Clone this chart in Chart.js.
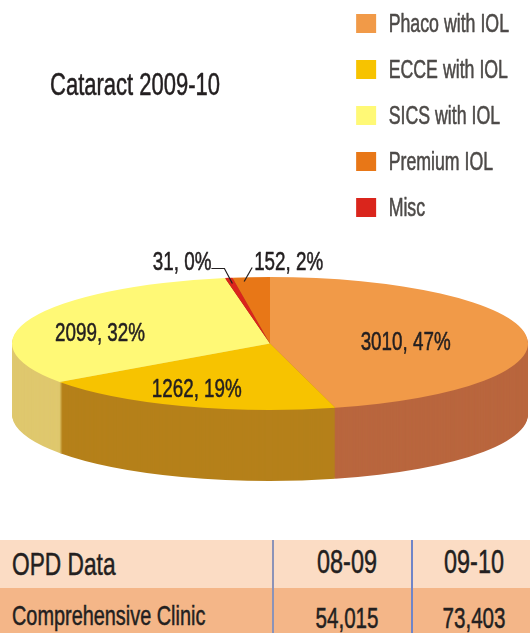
<!DOCTYPE html>
<html>
<head>
<meta charset="utf-8">
<script src="https://cdn.jsdelivr.net/npm/chart.js@4/dist/chart.umd.min.js"></script>
<style>
html,body{margin:0;padding:0;background:#fff;overflow:hidden}
#wrap{position:relative;width:530px;height:633px;overflow:hidden;font-family:"Liberation Sans",sans-serif;color:#231f20}
canvas{position:absolute;left:0;top:0}
.row{position:absolute;left:0;width:530px}
.cell{position:absolute;white-space:nowrap;line-height:1;transform:scaleX(.71);transform-origin:left center;-webkit-text-stroke:.5px #231f20}
.c{transform-origin:center center;text-align:center}
.vl{position:absolute;top:540px;height:93px;width:1.5px}
</style>
</head>
<body>
<div id="wrap">
<canvas id="c" width="530" height="633"></canvas>
<div class="row" style="top:540px;height:48px;background:#fbdcc4"></div>
<div class="row" style="top:588px;height:45px;background:#f4b688"></div>
<div class="vl" style="left:272px;background:#8b93b8"></div>
<div class="vl" style="left:411px;background:#6f85c8"></div>
<div class="cell" id="h0" style="left:12px;top:548px;font-size:32px"></div>
<div class="cell c" id="h1" style="left:276px;width:142px;top:545px;font-size:33px"></div>
<div class="cell c" id="h2" style="left:404px;width:140px;top:545px;font-size:33px"></div>
<div class="cell" id="r0" style="left:12px;top:602px;font-size:28px"></div>
<div class="cell c" id="r1" style="left:276px;width:142px;top:604px;font-size:29px"></div>
<div class="cell c" id="r2" style="left:404px;width:140px;top:604px;font-size:29px"></div>
</div>
<script>
const categories = ["Phaco with IOL","ECCE with IOL","SICS with IOL","Misc","Premium IOL"];
const values = [3010,1262,2099,31,152];
const valueLabels = ["3010, 47%","1262, 19%","2099, 32%","31, 0%","152, 2%"];
const topColors = ["#f19a48","#f7c300","#fff976","#da251c","#e87717"];
const sideColors = ["#b9663e","#b5801a","#dfc86e","#8f2a1a","#a85a1e"];
const legendOrder = ["Phaco with IOL","ECCE with IOL","SICS with IOL","Premium IOL","Misc"];
const chartTitle = "Cataract 2009-10";
const tableHeader = ["OPD Data","08-09","09-10"];
const tableRow = ["Comprehensive Clinic","54,015","73,403"];

["h0","h1","h2"].forEach((id,i)=>document.getElementById(id).textContent=tableHeader[i]);
["r0","r1","r2"].forEach((id,i)=>document.getElementById(id).textContent=tableRow[i]);

const FONT = '"Liberation Sans",sans-serif';
const NARROW = .71;
const CX = 270, CY = 343.5, RADIUS = 258, TILT = 66.5/258, DEPTH = 71;

const canvas = document.getElementById('c');
const rawCtx = canvas.getContext('2d');
const origFill = rawCtx.fillText.bind(rawCtx), origStroke = rawCtx.strokeText.bind(rawCtx), origMeasure = rawCtx.measureText.bind(rawCtx);
rawCtx.fillText = function(t,x,y,mw){
  rawCtx.save(); rawCtx.translate(x,y+(legendOrder.includes(t)?2:0)); rawCtx.scale(NARROW,1);
  origFill(t,0,0);
  rawCtx.strokeStyle = rawCtx.fillStyle; rawCtx.lineWidth = .55; rawCtx.lineJoin='round';
  origStroke(t,0,0);
  rawCtx.restore();
};
rawCtx.measureText = function(t){ return {width:origMeasure(t).width*NARROW}; };

function tilt(ctx,x,y,dy){
  ctx.translate(CX,CY+dy); ctx.scale(1,TILT); ctx.translate(-x,-y);
}
const pie3d = {
  id:'pie3d',
  beforeDatasetsDraw(chart){
    const ctx = chart.ctx, arcs = chart.getDatasetMeta(0).data;
    const {x,y} = arcs[0];
    for(let d=DEPTH;d>=1;d--){
      ctx.save(); tilt(ctx,x,y,d);
      arcs.forEach((a,i)=>{
        const o = a.options;
        a.options = Object.create(o,{backgroundColor:{value:sideColors[i]}});
        a.draw(ctx);
        a.options = o;
      });
      ctx.restore();
    }
    ctx.save(); tilt(ctx,x,y,0);
  },
  afterDatasetsDraw(chart){
    const ctx = chart.ctx; ctx.restore();
    const arcs = chart.getDatasetMeta(0).data;
    const at = (a,f,dy)=>{
      const m = (a.startAngle+a.endAngle)/2;
      return [CX+f*RADIUS*Math.cos(m), CY+f*RADIUS*TILT*Math.sin(m)+dy];
    };
    ctx.save();
    ctx.fillStyle='#231f20'; ctx.textAlign='center'; ctx.textBaseline='middle';
    ctx.font='26.5px '+FONT;
    const place=[[.53,4],[.83,-6],[.712,8]];
    place.forEach((p,i)=>{const q=at(arcs[i],p[0],p[1]);ctx.fillText(valueLabels[i],q[0],q[1]);});
    ctx.strokeStyle='#231f20'; ctx.lineWidth=1.2;
    const m=at(arcs[3],.96,0), pr=at(arcs[4],.95,0);
    ctx.beginPath(); ctx.moveTo(m[0]+2,m[1]+3); ctx.lineTo(m[0]-6,m[1]-12); ctx.lineTo(m[0]-19,m[1]-12); ctx.stroke();
    ctx.beginPath(); ctx.moveTo(pr[0]-8,pr[1]+1); ctx.lineTo(pr[0],pr[1]-13); ctx.stroke();
    ctx.textAlign='right'; ctx.fillText(valueLabels[3],m[0]-19,m[1]-18);
    ctx.textAlign='left'; ctx.fillText(valueLabels[4],pr[0]+2,pr[1]-18);
    ctx.font='31px '+FONT; ctx.fillText(chartTitle,50,86);
    ctx.restore();
  }
};

new Chart(canvas,{
  type:'pie',
  data:{labels:categories,datasets:[{data:values,backgroundColor:topColors,borderWidth:0,clip:false}]},
  plugins:[pie3d],
  options:{
    responsive:false,animation:false,
    radius:RADIUS,
    layout:{padding:{left:0,right:11,top:-10,bottom:0}},
    plugins:{
      tooltip:{enabled:false},
      legend:{
        position:'right',align:'start',
        labels:{
          boxWidth:20,boxHeight:19,padding:21,color:'#4d4a48',
          font:{family:FONT,size:25},
          sort:(a,b)=>legendOrder.indexOf(a.text)-legendOrder.indexOf(b.text)
        }
      }
    }
  }
});
</script>
</body>
</html>
